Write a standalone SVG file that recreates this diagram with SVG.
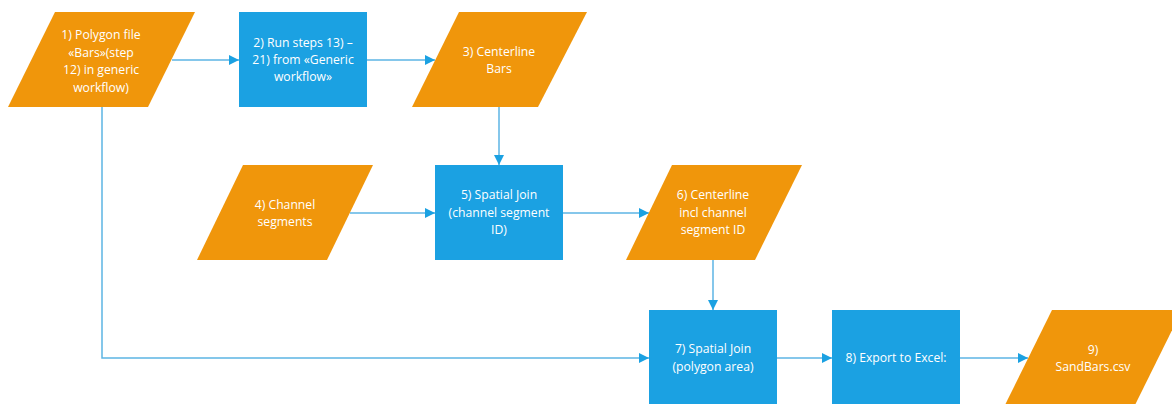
<svg xmlns="http://www.w3.org/2000/svg" width="1172" height="404" viewBox="0 0 1172 404">
  <style>
    .data { fill: #F0960B; }
    .proc { fill: #1BA1E2; }
    .lbl { font-family: "Open Sans", "Liberation Sans", sans-serif; font-size: 12.2px; fill: #FFFFFF; text-anchor: middle; }
    .conn { fill: none; stroke: #5CB5E4; stroke-width: 1.5; }
  </style>
  <defs>
    <marker id="arrow" markerUnits="userSpaceOnUse" markerWidth="11" markerHeight="11" refX="10" refY="5" orient="auto">
      <path d="M0,0 L10,5 L0,10 Z" fill="#1BA1E2"/>
    </marker>
  </defs>
  <rect width="1172" height="404" fill="#FFFFFF"/>

  <!-- connectors -->
  <g id="connectors">
    <line class="conn" x1="172" y1="60" x2="239" y2="60" marker-end="url(#arrow)"/>
    <line class="conn" x1="367" y1="60" x2="435" y2="60" marker-end="url(#arrow)"/>
    <line class="conn" x1="499" y1="107" x2="499" y2="165" marker-end="url(#arrow)"/>
    <line class="conn" x1="350" y1="213" x2="435" y2="213" marker-end="url(#arrow)"/>
    <line class="conn" x1="563" y1="213" x2="649" y2="213" marker-end="url(#arrow)"/>
    <line class="conn" x1="713" y1="260" x2="713" y2="310" marker-end="url(#arrow)"/>
    <polyline class="conn" points="102,107 102,358 649,358" marker-end="url(#arrow)"/>
    <line class="conn" x1="777" y1="358" x2="832" y2="358" marker-end="url(#arrow)"/>
    <line class="conn" x1="960" y1="358" x2="1028" y2="358" marker-end="url(#arrow)"/>
  </g>

  <!-- 1) input polygon file -->
  <g id="node1">
    <polygon class="data" points="55,12 195,12 148,107 8,107"/>
    <text class="lbl" x="101" y="39">1) Polygon file</text>
    <text class="lbl" x="101" y="57">«Bars»(step</text>
    <text class="lbl" x="101" y="74">12) in generic</text>
    <text class="lbl" x="101" y="92">workflow)</text>
  </g>

  <!-- 2) run generic steps -->
  <g id="node2">
    <rect class="proc" x="239" y="12" width="128" height="95"/>
    <text class="lbl" x="303" y="47">2) Run steps 13) –</text>
    <text class="lbl" x="303" y="64">21) from «Generic</text>
    <text class="lbl" x="303" y="81">workflow»</text>
  </g>

  <!-- 3) centerline bars -->
  <g id="node3">
    <polygon class="data" points="459,12 587,12 538,107 412,107"/>
    <text class="lbl" x="499" y="56">3) Centerline</text>
    <text class="lbl" x="499" y="73">Bars</text>
  </g>

  <!-- 4) channel segments -->
  <g id="node4">
    <polygon class="data" points="243,165 373,165 327,260 197,260"/>
    <text class="lbl" x="285" y="209">4) Channel</text>
    <text class="lbl" x="285" y="226">segments</text>
  </g>

  <!-- 5) spatial join with channel segments -->
  <g id="node5">
    <rect class="proc" x="435" y="165" width="128" height="95"/>
    <text class="lbl" x="499" y="199">5) Spatial Join</text>
    <text class="lbl" x="499" y="217">(channel segment</text>
    <text class="lbl" x="499" y="234">ID)</text>
  </g>

  <!-- 6) centerline with segment id -->
  <g id="node6">
    <polygon class="data" points="672,165 802,165 755,260 626,260"/>
    <text class="lbl" x="713" y="199">6) Centerline</text>
    <text class="lbl" x="713" y="217">incl channel</text>
    <text class="lbl" x="713" y="234">segment ID</text>
  </g>

  <!-- 7) spatial join with polygon area -->
  <g id="node7">
    <rect class="proc" x="649" y="310" width="128" height="95"/>
    <text class="lbl" x="713" y="353">7) Spatial Join</text>
    <text class="lbl" x="713" y="371">(polygon area)</text>
  </g>

  <!-- 8) export -->
  <g id="node8">
    <rect class="proc" x="832" y="310" width="128" height="95"/>
    <text class="lbl" x="896" y="362">8) Export to Excel:</text>
  </g>

  <!-- 9) csv output -->
  <g id="node9">
    <polygon class="data" points="1052,310 1182,310 1135,405 1005,405"/>
    <text class="lbl" x="1093" y="354">9)</text>
    <text class="lbl" x="1093" y="371">SandBars.csv</text>
  </g>
</svg>
